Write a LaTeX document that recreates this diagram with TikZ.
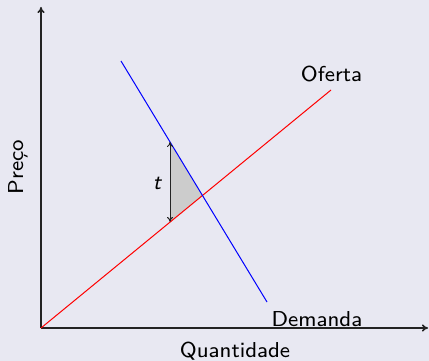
\documentclass[tikz,border=0pt]{standalone}
\usetikzlibrary{arrows.meta}
\definecolor{bg}{RGB}{232,232,242}
\definecolor{axis}{RGB}{35,35,35}
\newcommand{\bigsf}[1]{\scalebox{2.7}{\fontsize{8}{10}\selectfont\sffamily #1}}
\tikzset{
  lbl/.style={inner sep=0pt, text=black},
  axisline/.style={draw=axis, line width=1.5pt, -{To[length=6pt,width=7pt]}},
  curve/.style={line width=1pt},
}
\begin{document}
\begin{tikzpicture}[x=1pt,y=-1pt]
\fill[bg] (0,0) rectangle (429,361);
\useasboundingbox (0,0) rectangle (429,361);
\coordinate (O) at (41,328);
\coordinate (Ytop) at (41,7);
\coordinate (Xend) at (428,328);
\coordinate (S1) at (331,90);
\coordinate (D0) at (121,61);
\coordinate (D1) at (267,302);
\coordinate (A) at (170,142);
\coordinate (B) at (170,221.9);
\coordinate (E) at (202.5,195.5);
\fill[gray!40] (A) -- (B) -- (E) -- cycle;
\draw[axisline] (O) -- (Ytop);
\draw[axisline] (O) -- (Xend);
\draw[curve, red] (O) -- (S1);
\draw[curve, blue] (D0) -- (D1);
\draw[line width=1pt, draw=axis, {To[length=5pt,width=6pt]}-{To[length=5pt,width=6pt]}] (A) -- (B);
\node[lbl] (oferta) at (331.5,74) {\bigsf{Oferta}};
\node[lbl] (demanda) at (317,319) {\bigsf{Demanda}};
\node[lbl] (quant) at (235,351) {\bigsf{Quantidade}};
\node[lbl, rotate=90] (preco) at (18,167) {\bigsf{Preço}};
\node[lbl] (t) at (157,183) {\bigsf{\itshape t}};
\end{tikzpicture}
\end{document}
